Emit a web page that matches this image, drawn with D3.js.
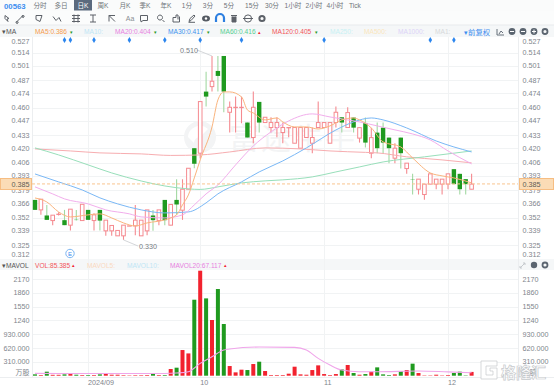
<!DOCTYPE html>
<html>
<head>
<meta charset="utf-8">
<script src="https://cdn.jsdelivr.net/npm/d3@7"></script>
<style>
  html, body { margin: 0; padding: 0; background: #fff; }
  svg { display: block; }
  text { font-family: "Liberation Sans", "Noto Sans CJK SC", sans-serif; }
</style>
</head>
<body>
<svg width="554" height="387"></svg>
<script>
// candles, one per trading day
const opens  = [.3693,.3595,.3540,.3490,.3553,.3494,.3445,.3498,.3490,.3595,.3490,.3595,.3389,.3389,.3340,.3340,.3438,.3438,.3340,.3389,.3540,.3490,.3693,.3445,.3693,.3592,.3798,.4201,.4152,.4757,.4806,.4960,.5107,.4554,.4603,.4603,.4453,.4306,.4656,.4453,.4404,.4404,.4355,.4404,.4250,.4201,.4306,.4250,.4404,.4404,.4250,.4453,.4505,.4404,.4502,.4300,.4449,.4152,.4354,.4403,.4305,.4103,.4305,.4001,.3898,.3798,.3746,.3848,.3848,.3848,.3848,.3995,.3949,.3897,.3798];
const closes = [.3595,.3700,.3497,.3543,.3553,.3445,.3602,.3497,.3650,.3497,.3546,.3490,.3494,.3442,.3393,.3445,.3438,.3494,.3494,.3595,.3494,.3595,.3494,.3648,.3648,.3798,.4004,.4048,.4659,.4708,.4859,.4911,.4757,.4603,.4603,.4603,.4306,.4603,.4453,.4505,.4453,.4453,.4404,.4404,.4404,.4404,.4404,.4306,.4453,.4453,.4453,.4554,.4453,.4551,.4403,.4403,.4256,.4305,.4201,.4256,.4201,.4201,.4152,.4054,.3897,.3897,.3848,.3949,.3897,.3897,.3949,.3848,.3798,.3848,.3848];
const highs  = [.3693,.3700,.3644,.3543,.3572,.3595,.3602,.3595,.3650,.3595,.3562,.3595,.3494,.3442,.3393,.3445,.3440,.3644,.3494,.3595,.3595,.3595,.3693,.3648,.3896,.3896,.4004,.4201,.4659,.4953,.5107,.5107,.5107,.4659,.4708,.4708,.4453,.4757,.4656,.4505,.4505,.4505,.4453,.4404,.4404,.4404,.4404,.4404,.4659,.4453,.4453,.4610,.4505,.4603,.4502,.4403,.4502,.4403,.4453,.4453,.4305,.4250,.4305,.4054,.3949,.3897,.3848,.3949,.3897,.3897,.3949,.3995,.3949,.3897,.3949];
const lows   = [.3595,.3546,.3497,.3445,.3540,.3445,.3393,.3490,.3490,.3497,.3393,.3393,.3340,.3340,.3340,.3300,.3436,.3347,.3340,.3347,.3389,.3445,.3445,.3445,.3546,.3497,.3798,.4005,.4100,.4610,.4757,.4757,.4554,.4355,.4355,.4446,.4306,.4250,.4355,.4453,.4355,.4309,.4250,.4309,.4250,.4201,.4306,.4152,.4404,.4404,.4250,.4404,.4355,.4403,.4354,.4256,.4207,.4103,.4152,.4152,.4054,.4054,.4001,.3949,.3746,.3746,.3694,.3848,.3798,.3746,.3798,.3848,.3746,.3746,.3798];
const volumes = [30,15,90,20,20,30,37,22,15,15,15,30,60,22,22,12,8,12,12,15,60,15,15,150,180,576,500,1705,2356,1735,1250,1945,1160,217,75,135,127,262,314,105,15,15,15,45,202,30,22,127,232,37,15,37,142,240,60,22,37,90,187,30,15,30,105,127,270,60,8,8,22,8,15,60,90,8,85];

// moving averages at these days
const ma5Days  = [0,2,4,6,9,11,13,15,17,19,22,24,25,26,27,28,30,31,32,33,35,36,37,39,41,42,44,46,48,50,52,54,55,57,59,62,64,67,69,71,74];
const ma5      = [.3712,.3673,.3575,.3526,.3546,.3556,.3516,.3467,.3437,.3467,.3497,.3546,.3644,.3742,.3909,.4086,.4410,.4675,.4754,.4754,.4705,.4577,.4547,.4479,.4498,.4459,.4410,.4410,.4390,.4420,.4479,.4498,.4479,.4400,.4263,.4213,.4105,.3958,.3929,.3909,.3860];
const ma20Days = [0,3,5,9,12,16,18,22,25,27,29,31,34,37,40,43,47,50,53,55,58,61,64,67,70,74];
const ma20     = [.3821,.3752,.3703,.3654,.3595,.3556,.3526,.3516,.3546,.3644,.3752,.3840,.4037,.4223,.4361,.4469,.4538,.4508,.4479,.4459,.4420,.4381,.4341,.4282,.4174,.4047];
const ma30Days = [0,4,8,11,14,18,22,26,29,31,35,38,42,46,51,54,57,59,63,68,74];
const ma30     = [.3948,.3870,.3791,.3713,.3654,.3595,.3565,.3575,.3664,.3752,.3870,.3968,.4076,.4204,.4380,.4459,.4498,.4479,.4400,.4272,.4164];
const ma60Days = [0,4,9,13,18,22,26,28,31,35,39,42,47,51,55,59,66,74];
const ma60     = [.4204,.4135,.4037,.3958,.3879,.3830,.3801,.3796,.3821,.3860,.3880,.3890,.3919,.3968,.4017,.4066,.4116,.4174];
const ma120Days = [0,6,11,18,23,28,33,39,45,50,56,58,63,69,74];
const ma120     = [.4194,.4174,.4155,.4145,.4130,.4135,.4164,.4204,.4194,.4174,.4160,.4155,.4116,.4086,.4057];
const mavolDays = [0,8,16,22,24,26,28,30,32,33,38,44,46,48,50,52,55,58,65,70,74];
const mavol20   = [52,50,48,50,60,90,277,426,576,598,643,636,576,389,239,127,90,90,105,85,67];

const priceTicks = [.527,.514,.501,.487,.474,.460,.447,.433,.420,.406,.393,.379,.366,.352,.339,.325,.312];
const volTicks = [310,620,930,1240,1550,1860,2170];
const volLabels = ['310.000','620.000','930.000','1240','1550','1860','2170'];
const monthDays = [9,28,49,70];
const monthLabels = ['2024/09','10','11','12'];
const eventDays = [5,6,10,16,22,28,35,49,67,71];
const lastPrice = 0.385;
const tabs = ['分时','多日','日K','周K','月K','季K','年K','1分','3分','5分','15分','30分','1小时','2小时','4小时','Tick'];
const tabX = [40,61,83,103,125,145,166,187,208,229,252,272,293,314,335,355];

const svg = d3.select('svg');

const red = '#f2222e';
const redLine = '#f58a90';
const green = '#1f9a1f';
const greenLine = '#a3d9a3';
const grid = '#f1f3f4';
const axisText = '#80858c';

const xScale = d3.scaleLinear().domain([0, 74]).range([35, 471.6]);
const yScale = d3.scaleLinear().domain([.42, .325]).range([148.3, 245]);
const volScale = d3.scaleLinear().domain([0, 2170]).range([375.7, 279]);

const plotLeft = 32;
const plotRight = 518;

// gutter and header bands
svg.append('rect').attr('x', 0).attr('y', 0).attr('width', 554).attr('height', 11).attr('fill', '#fafbfb');
svg.append('rect').attr('x', 0).attr('y', 11).attr('width', 554).attr('height', 14).attr('fill', '#fbfcfc');
svg.append('rect').attr('x', 0).attr('y', 25).attr('width', 554).attr('height', 12).attr('fill', '#f5f7f8');
svg.append('rect').attr('x', 0).attr('y', 259).attr('width', 554).attr('height', 11).attr('fill', '#f5f7f8');
svg.append('line').attr('x1', 0).attr('x2', 554).attr('y1', 25).attr('y2', 25).attr('stroke', '#e8ebed');

// tabs
svg.append('text').attr('x', 4).attr('y', 8.5).attr('font-size', 7.8).attr('font-weight', 700).attr('fill', '#3d8ef0').text('00563');
svg.append('rect').attr('x', 74).attr('y', 0).attr('width', 18).attr('height', 10.5).attr('fill', '#5b6a7e');
svg.selectAll('.tab').data(tabs).enter().append('text')
  .attr('class', 'tab')
  .attr('x', (d, i) => tabX[i])
  .attr('y', 8.2)
  .attr('text-anchor', 'middle')
  .attr('font-size', 6.6)
  .attr('fill', d => d == '日K' ? '#fff' : '#6e7379')
  .text(d => d);

// toolbar icons, only rough shapes
const iconPaths = [
  [7, 'M-2,-3L2,0L0,0.5L1,3L-2,0Z'],
  [20, 'M-3,3L3,-3M-3,3a1,1 0 1,0 .1,0M3,-3a1,1 0 1,0 .1,0'],
  [39, 'M-3,-3L3,-3L1,3L-3,1Z'],
  [57, 'M-4,-2L-1,2L2,-1L4,3'],
  [76, 'M-4,-3H4M-4,0H4M-4,3H4M-2,-4V4M2,-4V4'],
  [93, 'M-3,-3.5H3M-3,3.5H3M0,-3.5V3.5'],
  [112, 'M-3,3V-3H3M-3,-3L3,3'],
  [144, 'M-3.5,-3H3.5V2H-1L-3,3.5V2H-3.5Z'],
  [161, 'M1.5,1.5L3.5,3.5M1.5,-1a2.5,2.5 0 1,0 0,.1'],
  [176, 'M-3,3.5H3.5V-2M-3,3.5V-1H0V-3.5H2V1'],
  [192, 'M-3,3L-2,0L2,-3.5L3,-2.5L-1,2Z M-3.5,3.8H3']
];
svg.selectAll('.icon').data(iconPaths).enter().append('path')
  .attr('class', 'icon')
  .attr('d', d => d[1])
  .attr('transform', d => `translate(${d[0]},18.5)`)
  .attr('fill', 'none')
  .attr('stroke', '#5c6168')
  .attr('stroke-width', 1);
svg.append('text').attr('x', 130).attr('y', 21).attr('text-anchor', 'middle').attr('font-size', 7).attr('fill', '#8a8e93').text('Aa');
svg.append('ellipse').attr('cx', 206).attr('cy', 18.5).attr('rx', 4).attr('ry', 3).attr('fill', '#555b63');
svg.append('circle').attr('cx', 206).attr('cy', 18.5).attr('r', 1.2).attr('fill', '#fff');
svg.append('path').attr('d', 'M216,22V18a4,4 0 0,1 8,0V22').attr('fill', 'none').attr('stroke', '#2d7fe0').attr('stroke-width', 2.2);
svg.append('path').attr('d', 'M231,15.5H237M232,16.5V22H236V16.5').attr('fill', '#5c6168').attr('stroke', '#5c6168');
svg.append('circle').attr('cx', 248).attr('cy', 18.5).attr('r', 3.6).attr('fill', 'none').attr('stroke', '#5c6168');
svg.append('line').attr('x1', 243).attr('x2', 253).attr('y1', 18.5).attr('y2', 18.5).attr('stroke', '#5c6168');
svg.append('circle').attr('cx', 262).attr('cy', 18.5).attr('r', 2.6).attr('fill', 'none').attr('stroke', '#5c6168').attr('stroke-width', 2);

// moving average legend
const maLegend = [
  ['MA5:0.386', 35, '#f59a4d'], ['MA10:', 84, '#bfe6f5'], ['MA20:0.404', 115, '#e77fe0'],
  ['MA30:0.417', 168, '#3d92ee'], ['MA60:0.416', 220, '#55cf93'], ['MA120:0.405', 272, '#f2555a'],
  ['MA250:', 330, '#c8f1f4'], ['MA500:', 364, '#fae6bd'], ['MA1000:', 398, '#dcd3f7'], ['MA1:', 435, '#d7d9db']
];
svg.selectAll('.maLegend').data(maLegend).enter().append('text')
  .attr('class', 'maLegend')
  .attr('x', d => d[1])
  .attr('y', 33.8)
  .attr('font-size', 6.6)
  .attr('fill', d => d[2])
  .text(d => d[0]);
svg.append('text').attr('x', 2).attr('y', 33.8).attr('font-size', 6.8).attr('fill', '#555').text('▾MA');
svg.append('text').attr('x', 464).attr('y', 34.5).attr('font-size', 7.4).attr('fill', '#3d8ef0').text('▾前复权');

const marks = [[69.5, '▾', green], [153.5, '▾', green], [206.5, '▾', green], [258, '▴', red], [315, '▾', green]];
svg.selectAll('.maMark').data(marks).enter().append('text')
  .attr('class', 'maMark')
  .attr('x', d => d[0])
  .attr('y', 33.5)
  .attr('font-size', 5)
  .attr('fill', d => d[2])
  .text(d => d[1]);

// right icons of the MA row
svg.append('path').attr('d', 'M497,29V35H504M499,34L501,31L503,33').attr('fill', 'none').attr('stroke', '#67707b');
[512, 523, 534].forEach(x => {
  svg.append('circle').attr('cx', x).attr('cy', 31.5).attr('r', 3.4).attr('fill', '#5b6570');
  svg.append('line').attr('x1', x - 2).attr('x2', x + 2).attr('y1', 31.5).attr('y2', 31.5).attr('stroke', '#fff');
});
svg.append('line').attr('x1', 534).attr('x2', 534).attr('y1', 29.5).attr('y2', 33.5).attr('stroke', '#fff');
svg.append('circle').attr('cx', 545).attr('cy', 31.5).attr('r', 2.5).attr('fill', 'none').attr('stroke', '#5b6570').attr('stroke-width', 1.8);

// grid
const g = svg.append('g');
g.selectAll('.priceGrid').data(priceTicks.slice(1, -1)).enter().append('line')
  .attr('class', 'priceGrid')
  .attr('x1', plotLeft).attr('x2', plotRight)
  .attr('y1', d => Math.round(yScale(d)) + .5).attr('y2', d => Math.round(yScale(d)) + .5)
  .attr('stroke', grid);
g.selectAll('.volGrid').data(volTicks).enter().append('line')
  .attr('class', 'volGrid')
  .attr('x1', plotLeft).attr('x2', plotRight)
  .attr('y1', d => Math.round(volScale(d)) + .5).attr('y2', d => Math.round(volScale(d)) + .5)
  .attr('stroke', grid);
g.selectAll('.monthGrid').data(monthDays).enter().append('line')
  .attr('class', 'monthGrid')
  .attr('x1', d => Math.round(xScale(d)) + .5).attr('x2', d => Math.round(xScale(d)) + .5)
  .attr('y1', 37).attr('y2', 377)
  .attr('stroke', grid);
[plotLeft, plotRight].forEach(x => {
  g.append('line').attr('x1', x + .5).attr('x2', x + .5).attr('y1', 37).attr('y2', 377).attr('stroke', '#eceef0');
});
g.append('line').attr('x1', 0).attr('x2', 554).attr('y1', 377.5).attr('y2', 377.5).attr('stroke', '#eceef0');

// faint futu watermark
const wm = svg.append('g').attr('fill', '#f3f4f5');
wm.append('circle').attr('cx', 200).attr('cy', 137).attr('r', 16);
wm.append('path').attr('d', 'M188,137a12,12 0 0,1 20,-8l-8,8a6,6 0 0,0 -6,6Z').attr('fill', '#fff');
wm.append('text').attr('x', 229).attr('y', 149).attr('font-size', 30).attr('letter-spacing', 2).text('富途牛牛');

// y labels, the top and bottom ones are kept inside the panel
const labelY = d => Math.max(44, Math.min(257, yScale(d) + 2.6));
[[29.5, 'end'], [522.5, 'start']].forEach(([x, anchor]) => {
  svg.selectAll('.priceLabel' + anchor).data(priceTicks).enter().append('text')
    .attr('class', 'priceLabel' + anchor)
    .attr('x', x)
    .attr('y', labelY)
    .attr('text-anchor', anchor)
    .attr('font-size', 7.2)
    .attr('fill', axisText)
    .text(d => d.toFixed(3));
  svg.selectAll('.volLabel' + anchor).data(volTicks).enter().append('text')
    .attr('class', 'volLabel' + anchor)
    .attr('x', x)
    .attr('y', d => volScale(d) + 2.6)
    .attr('text-anchor', anchor)
    .attr('font-size', 7.2)
    .attr('fill', axisText)
    .text((d, i) => volLabels[i]);
  svg.append('text').attr('x', x).attr('y', 375).attr('text-anchor', anchor).attr('font-size', 7).attr('fill', axisText).text('万股');
});

svg.selectAll('.monthLabel').data(monthDays).enter().append('text')
  .attr('class', 'monthLabel')
  .attr('x', d => xScale(d))
  .attr('y', 385)
  .attr('font-size', 7.2)
  .attr('fill', axisText)
  .text((d, i) => monthLabels[i]);

// event diamonds
svg.selectAll('.event').data(eventDays).enter().append('path')
  .attr('class', 'event')
  .attr('d', d3.symbol().type(d3.symbolDiamond).size(11))
  .attr('transform', d => `translate(${xScale(d)},40)`)
  .attr('fill', '#2c86ee');

// candles
const days = d3.range(opens.length);
const isUp = i => closes[i] >= opens[i];

svg.selectAll('.wick').data(days).enter().append('line')
  .attr('class', 'wick')
  .attr('x1', i => xScale(i)).attr('x2', i => xScale(i))
  .attr('y1', i => yScale(highs[i])).attr('y2', i => yScale(lows[i]))
  .attr('stroke', i => isUp(i) ? redLine : greenLine)
  .attr('stroke-width', 1.1);

svg.selectAll('.body').data(days).enter().append('rect')
  .attr('class', 'body')
  .attr('x', i => xScale(i) - (isUp(i) ? 1.8 : 2.2))
  .attr('width', i => isUp(i) ? 3.6 : 4.4)
  .attr('y', i => yScale(Math.max(opens[i], closes[i])))
  .attr('height', i => Math.max(.3, Math.abs(yScale(opens[i]) - yScale(closes[i]))))
  .attr('fill', i => isUp(i) ? '#fff' : green)
  .attr('stroke', i => isUp(i) ? redLine : 'none')
  .attr('stroke-width', 1);

// moving average lines
const maLine = (dayList, values, scale) => d3.line()
  .x((d, i) => xScale(dayList[i]))
  .y(d => scale(d))
  .curve(d3.curveMonotoneX)(values);

const maSeries = [
  [ma120Days, ma120, '#f7adb0'],
  [ma60Days, ma60, '#98dfba'],
  [ma30Days, ma30, '#7ab8f6'],
  [ma20Days, ma20, '#f2aeec'],
  [ma5Days, ma5, '#fab47d']
];
svg.selectAll('.ma').data(maSeries).enter().append('path')
  .attr('class', 'ma')
  .attr('d', d => maLine(d[0], d[1], yScale))
  .attr('fill', 'none')
  .attr('stroke', d => d[2])
  .attr('stroke-width', 1);

// high and low notes
const notes = [
  [30, highs[30], '0.510', 180, 50, 197, 50],
  [15, lows[15], '0.330', 139, 246, 138, 246]
];
notes.forEach(n => {
  svg.append('line')
    .attr('x1', xScale(n[0])).attr('y1', yScale(n[1]))
    .attr('x2', n[5]).attr('y2', n[6])
    .attr('stroke', '#d4d6d9');
  svg.append('text').attr('x', n[3]).attr('y', n[4] + 2.6).attr('font-size', 7.2).attr('fill', '#777c83').text(n[2]);
});

// E marker
svg.append('circle').attr('cx', 70).attr('cy', 253.5).attr('r', 4.2).attr('fill', '#fff').attr('stroke', '#7db6f2');
svg.append('text').attr('x', 70).attr('y', 255.8).attr('text-anchor', 'middle').attr('font-size', 6).attr('fill', '#3d8ef0').text('E');

// last price line and tags
svg.append('line')
  .attr('x1', plotLeft).attr('x2', plotRight)
  .attr('y1', yScale(lastPrice)).attr('y2', yScale(lastPrice))
  .attr('stroke', '#f9c48f').attr('stroke-dasharray', '3,2');
[[0, 32], [519, 35]].forEach(b => {
  svg.append('rect').attr('x', b[0] + .5).attr('y', 178.5).attr('width', b[1] - 1).attr('height', 11)
    .attr('fill', '#fbdcb6').attr('stroke', '#f6bd82');
});
svg.append('text').attr('x', 29.5).attr('y', 186.6).attr('text-anchor', 'end').attr('font-size', 7.2).attr('fill', '#5d5a55').text('0.385');
svg.append('text').attr('x', 522.5).attr('y', 186.6).attr('font-size', 7.2).attr('fill', '#5d5a55').text('0.385');

// volume panel
const volLegend = [
  ['▾MAVOL', 2, '#555'], ['VOL:85.385', 35, '#f2555a'], ['MAVOL5:', 87, '#fad9bf'],
  ['MAVOL10:', 127, '#bfe6f5'], ['MAVOL20:67.117', 170, '#e77fe0']
];
svg.selectAll('.volLegend').data(volLegend).enter().append('text')
  .attr('class', 'volLegend')
  .attr('x', d => d[1])
  .attr('y', 267.6)
  .attr('font-size', 6.6)
  .attr('fill', d => d[2])
  .text(d => d[0]);
svg.append('text').attr('x', 71.5).attr('y', 267.3).attr('font-size', 5).attr('fill', red).text('▴');
svg.append('text').attr('x', 224).attr('y', 267.3).attr('font-size', 5).attr('fill', red).text('▴');
svg.append('path').attr('d', 'M520,268L525,263M523,263H525V265M520,266V268H522').attr('fill', 'none').attr('stroke', '#c5c9cd');
svg.append('circle').attr('cx', 534).attr('cy', 265).attr('r', 3.2).attr('fill', '#5b6570');
svg.append('circle').attr('cx', 545).attr('cy', 265).attr('r', 2.5).attr('fill', 'none').attr('stroke', '#5b6570').attr('stroke-width', 1.8);

svg.selectAll('.volBar').data(days).enter().append('rect')
  .attr('class', 'volBar')
  .attr('x', i => xScale(i) - 2)
  .attr('width', 4)
  .attr('y', i => volScale(volumes[i]))
  .attr('height', i => volScale(0) - volScale(volumes[i]))
  .attr('fill', i => isUp(i) ? red : green);

svg.append('path')
  .attr('d', maLine(mavolDays, mavol20, volScale))
  .attr('fill', 'none')
  .attr('stroke', '#f0a5ea')
  .attr('stroke-width', 1.1);

// gelonghui watermark, sits over the axis labels
const glh = svg.append('g').attr('fill', '#fff').attr('stroke', '#c6c9cc').attr('stroke-width', .7);
glh.append('path').attr('d', 'M481,361H497V366H486V375H493V371H490V368H497V379H481Z');
glh.append('text').attr('x', 501).attr('y', 378).attr('font-size', 15).attr('font-weight', 700).text('格隆汇');
</script>
</body>
</html>
